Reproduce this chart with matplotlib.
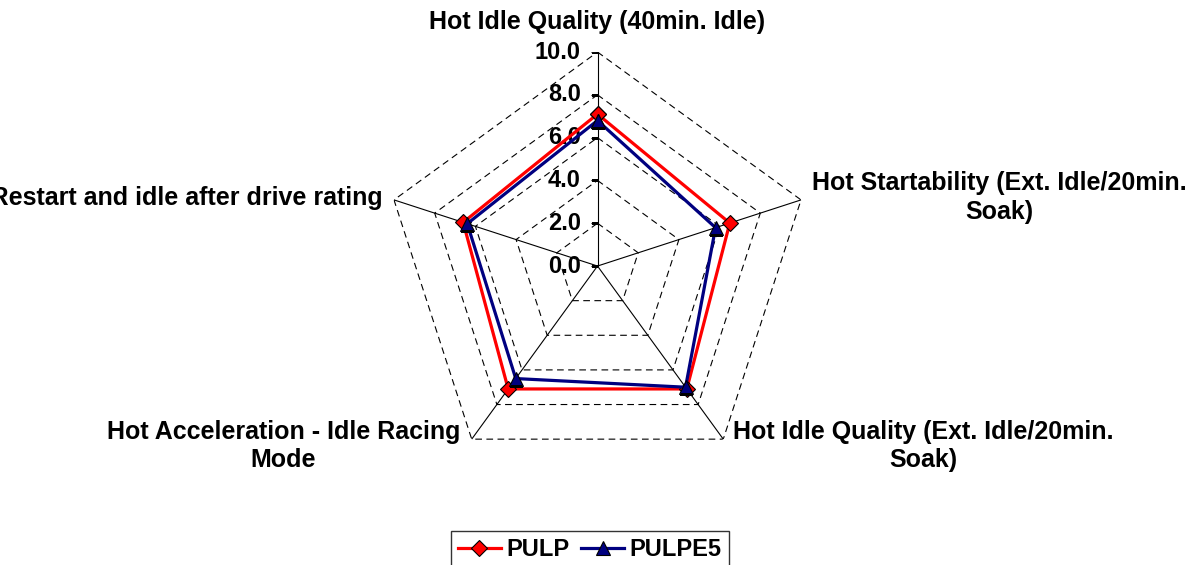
import numpy as np
import matplotlib.pyplot as plt

plt.rcParams['font.family'] = ['Liberation Sans', 'DejaVu Sans']

categories = ["Hot Idle Quality (40min. Idle)",
              "Hot Startability (Ext. Idle/20min.\nSoak)",
              "Hot Idle Quality (Ext. Idle/20min.\nSoak)",
              "Hot Acceleration - Idle Racing\nMode",
              "Hot Restart and idle after drive rating"]
pulp = [7.1, 6.5, 7.1, 7.1, 6.6]
pulpe5 = [6.8, 5.8, 7.0, 6.5, 6.4]
levels = [0, 2, 4, 6, 8, 10]
level_labels = ["0.0", "2.0", "4.0", "6.0", "8.0", "10.0"]

# label anchors in figure fraction (x, y, ha)
label_pos = [(0.500, 0.961, 'center'),
             (0.6795, 0.651, 'left'),
             (0.6134, 0.2106, 'left'),
             (0.385, 0.2106, 'right'),
             (0.3205, 0.6496, 'right')]

fig = plt.figure(figsize=(11.95, 5.65), dpi=100)
ax = fig.add_axes([0.3209, 0.1504, 0.3582, 0.7575], projection='polar')
ax.set_theta_zero_location('N')
ax.set_theta_direction(-1)
ax.set_ylim(0, 10)
ax.set_frame_on(False)
ax.grid(False)
ax.set_xticks([])
ax.set_yticks([])

n = len(categories)
theta = np.linspace(0, 2 * np.pi, n, endpoint=False)
theta_c = np.append(theta, theta[0])

# polygon grid
for lv in levels[1:]:
    ax.plot(theta_c, [lv] * (n + 1), color='black', lw=0.8, ls=(0, (6, 4)))
for t in theta:
    ax.plot([t, t], [0, 10], color='black', lw=0.8)

# ticks and labels on the top spoke
ax.plot([0] * len(levels), levels, ls='none', marker=0, markersize=5,
        color='black', mew=0.8)
for lv, lab in zip(levels, level_labels):
    ax.annotate(lab, (0, lv), xytext=(-12, 0), textcoords='offset points',
                ha='right', va='center', fontsize=17, fontweight='bold')

ax.plot(theta_c, pulp + pulp[:1], color='#FF0000', lw=2.3, marker='D',
        markersize=8.5, markerfacecolor='#FF0000', markeredgecolor='black',
        markeredgewidth=0.8, label='PULP', zorder=4)
ax.plot(theta_c, pulpe5 + pulpe5[:1], color='#000080', lw=2.3, marker='^',
        markersize=9.5, markerfacecolor='#000080', markeredgecolor='black',
        markeredgewidth=0.8, label='PULPE5', zorder=5)

for cat, (x, y, ha) in zip(categories, label_pos):
    fig.text(x, y, cat, ha=ha, va='center', multialignment='center',
             fontsize=18, fontweight='bold', linespacing=1.25)

leg = fig.legend(loc='upper center', bbox_to_anchor=(0.4937, 0.0602), ncol=2,
                 frameon=True, fancybox=False, edgecolor='black',
                 prop={'size': 17, 'weight': 'bold'}, handlelength=1.8,
                 columnspacing=0.5, handletextpad=0.25, borderpad=0.3,
                 borderaxespad=0)
leg.get_frame().set_linewidth(1.0)

fig.savefig('out.png', dpi=100)
